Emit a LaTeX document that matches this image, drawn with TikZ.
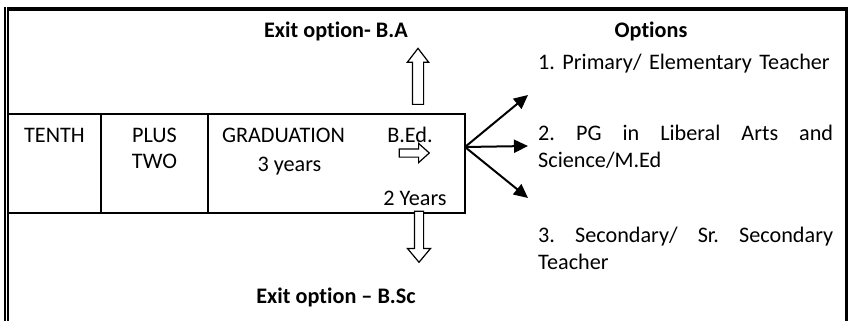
\documentclass[tikz,border=0pt]{standalone}
\usepackage{fontspec}
\setmainfont{Carlito}[Ligatures=NoCommon]
\usetikzlibrary{arrows.meta,positioning,shapes.arrows}
\frenchspacing

\begin{document}
\begin{tikzpicture}[
  x=1pt, y=-1pt,
  font=\fontsize{22.2}{27}\selectfont,
  cell/.style={draw, line width=1.8pt, minimum height=99pt, inner sep=0pt},
  lbl/.style={anchor=base, inner sep=0pt},
  exitlbl/.style={anchor=base, inner sep=0pt, font=\fontsize{22.2}{27}\selectfont\bfseries},
  opt/.style={anchor=base west, inner sep=0pt, text width=295pt, align=left},
  blockarr/.style={single arrow, draw, fill=white, line width=1.2pt, inner xsep=0pt, single arrow head indent=0pt},
  arr/.style={-{Triangle[length=14pt, width=13pt]}, line width=2pt}
]
\useasboundingbox (0,0) rectangle (849,321);

% page frame
\draw[line width=2pt] (5,7) -- (5,321);
\draw[line width=2pt] (8,321) -- (8,9);
\draw[line width=4pt] (7,9) -- (847,9);
\draw[line width=3pt] (846,7) -- (846,321);

% the course row
\node[cell, minimum width=93pt] (tenth) at (54.5,163.5) {};
\node[cell, minimum width=107pt] (plus) at (154.5,163.5) {};
\node[cell, minimum width=257pt] (grad) at (336.5,163.5) {};

\node[lbl] (tenthlbl) at (54.5,142) {TENTH};
\node[lbl] (pluslbl) at (154.5,142) {PLUS};
\node[lbl] (twolbl) at (154.5,168) {TWO};
\node[lbl] (gradlbl) at (283.5,142) {GRADUATION};
\node[lbl] (gradyrs) at (289.5,171) {3 years};
\node[lbl] (bedlbl) at (410,142) {B.Ed.};
\node[lbl] (bedyrs) at (415,205) {2 Years};

% exits
\node[exitlbl] (exitba) at (336,38) {Exit option- B.A};
\node[exitlbl] (exitbsc) at (336,303) {Exit option -- B.Sc};
\node[blockarr, minimum height=56pt, minimum width=20pt, inner ysep=5pt,
  single arrow head extend=5pt, single arrow tip angle=75, rotate=90] (up) at (418,80) {};
\node[blockarr, minimum height=51pt, minimum width=22pt, inner ysep=4pt,
  single arrow head extend=7pt, single arrow tip angle=80, rotate=-90] (down) at (419,234) {};
\node[blockarr, minimum height=30pt, minimum width=18pt, inner ysep=3.5pt,
  single arrow head extend=5.5pt, single arrow tip angle=84] (bedarr) at (412,153) {};

% options
\node[exitlbl] (opthead) at (651,38) {Options};
\node[opt] (opt1) at (538,70) {1. Primary/ Elementary Teacher};
\node[opt] (opt2) at (538,140) {\makebox[\linewidth][s]{\spaceskip=0pt 2. PG in Liberal Arts and}\\Science/M.Ed};
\node[opt] (opt3) at (538,242) {\makebox[\linewidth][s]{\spaceskip=0pt 3. Secondary/ Sr. Secondary}\\Teacher};

\coordinate (fork) at (465,147);
\coordinate (tip1) at (528,95);
\coordinate (tip2) at (528,146);
\coordinate (tip3) at (528,198);
\draw[arr] (fork) -- (tip1);
\draw[arr] (fork) -- (tip2);
\draw[arr] (fork) -- (tip3);
\end{tikzpicture}
\end{document}
